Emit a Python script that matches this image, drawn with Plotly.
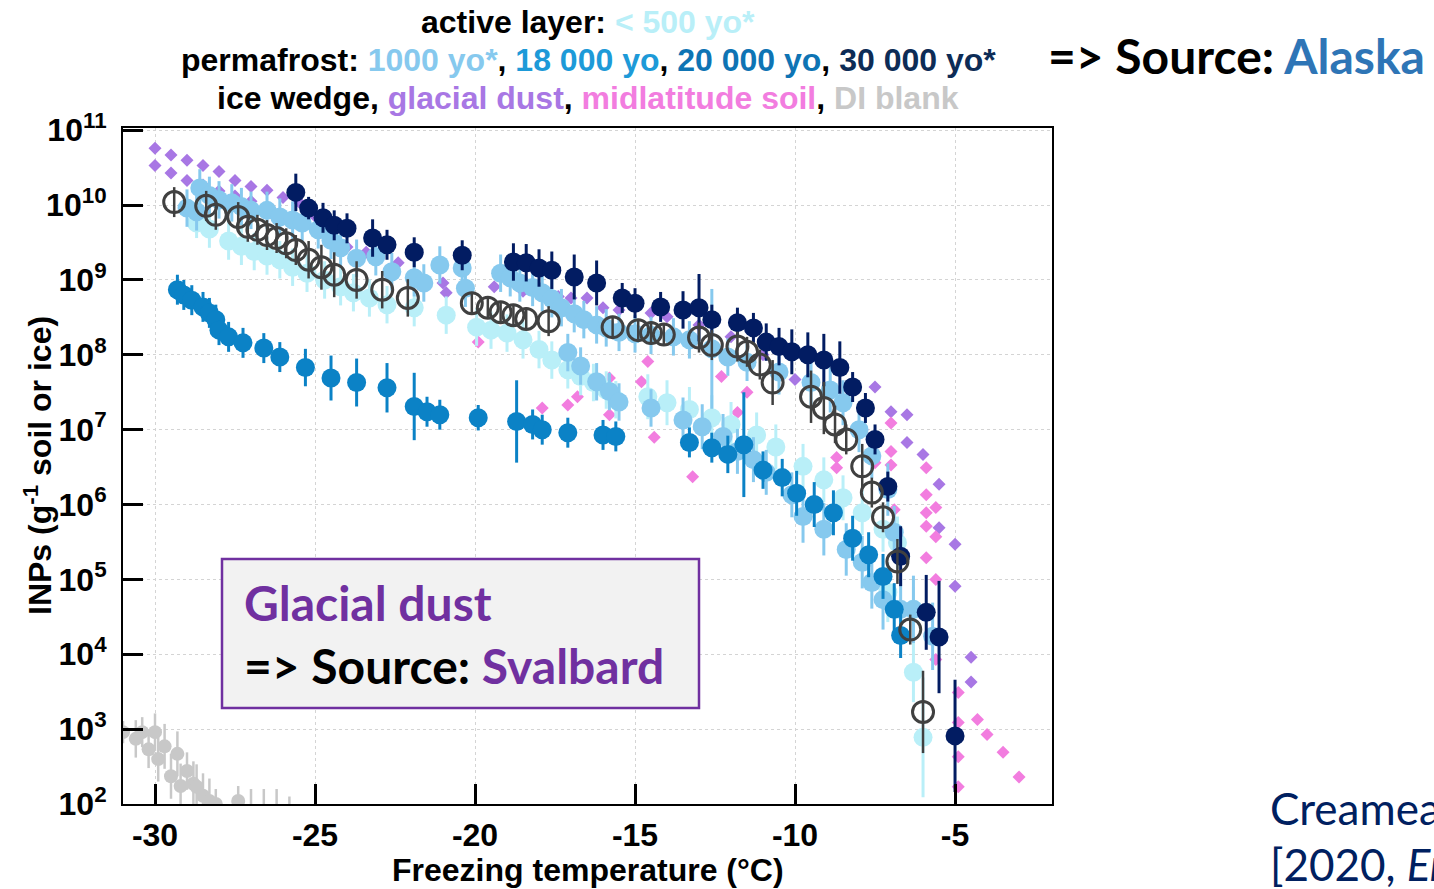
import plotly.graph_objects as go

# ---------------- data: freezing temperature (degC) and log10 INP (g^-1) ----------------
# DI blank
blank_T = [-31.0, -30.6, -30.4, -30.2, -30.0, -29.9, -29.7, -29.5, -29.3, -29.2, -29.0, -28.8,
           -28.7, -28.5, -28.3, -28.1, -27.4, -27.0, -26.6, -26.2, -25.8, -24.8, -23.5]
blank_log = [2.96, 2.87, 2.96, 2.73, 2.96, 2.60, 2.77, 2.37, 2.67, 2.24, 2.44, 2.27,
             2.23, 2.11, 2.04, 2.00, 2.04, 1.85, 1.80, 1.85, 1.80, 1.85, 1.85]
blank_err = [0.15, 0.25, 0.20, 0.25, 0.25, 0.30, 0.30, 0.30, 0.30, 0.30, 0.25, 0.30,
             0.30, 0.30, 0.30, 0.20, 0.20, 0.35, 0.40, 0.35, 0.30, 0.15, 0.15]

# glacial dust
dust_T = [-30.0, -30.0, -29.5, -29.5, -29.0, -29.0, -28.5, -28.5, -28.0, -28.0, -27.5, -27.5,
          -27.0, -27.0, -26.5, -26.0, -25.5, -25.0, -24.0, -23.4, -22.4, -21.0, -20.9, -19.4,
          -18.5, -17.4, -17.0, -16.5, -16.0, -15.5, -14.5, -14.0, -13.0, -12.0, -11.0, -10.0,
          -7.5, -7.0, -6.5, -6.5, -6.0, -5.5, -5.5, -5.0, -5.0, -4.5, -4.5]
dust_log = [10.76, 10.53, 10.67, 10.43, 10.60, 10.33, 10.53, 10.27, 10.45, 10.19, 10.33, 10.12,
            10.25, 10.05, 10.20, 10.10, 10.04, 9.85, 9.44, 9.37, 9.23, 8.96, 8.83, 8.91,
            8.85, 8.78, 8.76, 8.76, 8.63, 8.60, 8.56, 8.51, 8.40, 8.24, 8.00, 7.67,
            7.57, 7.24, 7.20, 6.83, 6.67, 6.27, 5.69, 5.47, 4.91, 3.96, 3.63]

# midlatitude soil
soil_T = [-19.9, -17.9, -17.1, -16.8, -15.8, -15.8, -14.8, -14.6, -14.4, -13.2, -12.3, -11.8,
          -11.5, -8.7, -8.7, -7.9, -7.5, -7.0, -7.0, -7.0, -6.9, -5.9, -5.9, -5.9, -5.9, -5.9,
          -5.6, -5.6, -5.6, -5.6, -4.9, -4.9, -4.9, -4.9, -4.3, -4.0, -3.5, -3.0]
soil_log = [8.17, 7.29, 7.33, 7.44, 7.69, 7.20, 7.64, 7.91, 6.90, 6.37, 7.71, 7.23,
            7.50, 6.63, 6.49, 7.00, 6.56, 7.09, 6.71, 6.53, 5.93, 6.49, 6.13, 5.89, 5.71, 5.29,
            5.96, 5.57, 5.00, 3.93, 3.49, 3.09, 2.63, 2.23, 3.13, 2.93, 2.69, 2.36]

# active layer, < 500 yo
active_T = [-28.7, -28.3, -27.7, -27.3, -26.9, -26.5, -26.1, -25.7, -25.25, -24.7, -24.2, -23.8,
            -23.3, -22.75, -21.9, -20.9, -19.95, -19.5, -19.0, -18.5, -18.0, -17.6, -17.1, -16.7,
            -16.3, -15.9, -15.6, -14.6, -14.0, -13.3, -12.6, -12.0, -11.2, -10.6, -9.75, -9.1,
            -8.5, -7.9, -7.25, -6.8, -7.1, -6.3, -6.3, -6.0]
active_log = [9.76, 9.68, 9.52, 9.45, 9.38, 9.32, 9.27, 9.17, 9.09, 9.00, 8.91, 8.83,
              8.76, 8.67, 8.63, 8.53, 8.37, 8.33, 8.29, 8.20, 8.07, 7.93, 7.80, 7.71,
              7.63, 7.53, 7.40, 7.44, 7.36, 7.27, 7.16, 7.07, 6.93, 6.77, 6.51, 6.33,
              6.09, 5.89, 5.67, 5.49, 4.83, 4.60, 3.76, 2.89]
active_err = [0.20, 0.25, 0.25, 0.25, 0.25, 0.25, 0.25, 0.25, 0.25, 0.25, 0.25, 0.25,
              0.25, 0.25, 0.25, 0.25, 0.25, 0.25, 0.25, 0.25, 0.25, 0.25, 0.25, 0.25,
              0.25, 0.25, 0.25, 0.30, 0.30, 0.30, 0.30, 0.30, 0.30, 0.30, 0.30, 0.30,
              0.30, 0.30, 0.30, 0.35, 0.40, 0.30, 0.40, 0.80]

# permafrost, 1000 yo*
p1000_T = [-29.0, -28.7, -28.6, -28.3, -28.0, -27.6, -27.3, -27.0, -26.5, -26.1, -25.7, -25.4,
           -24.9, -24.5, -24.2, -23.7, -23.1, -22.6, -21.9, -21.6, -21.1, -20.4, -20.3, -19.2,
           -18.9, -18.6, -18.2, -17.9, -17.6, -17.3, -16.9, -16.6, -16.2, -15.9, -15.5, -15.0,
           -14.5, -13.8, -13.3, -12.6, -12.1, -11.5, -10.5, -9.5, -8.9, -8.5, -8.0, -7.6,
           -7.1, -6.9,
           -17.1, -16.7, -16.2, -15.8, -15.5, -14.5, -13.5, -12.9, -12.25, -11.8, -11.3, -10.9,
           -10.1, -9.75, -9.1, -8.4, -7.9, -7.6, -7.25, -6.7, -6.3, -5.7]
p1000_log = [9.96, 9.91, 10.23, 10.13, 10.07, 10.03, 9.98, 9.93, 9.93, 9.84, 9.80, 9.76,
             9.67, 9.53, 9.43, 9.29, 9.31, 9.11, 9.03, 8.96, 9.20, 9.16, 8.89, 9.09,
             9.03, 8.96, 8.90, 8.83, 8.75, 8.63, 8.55, 8.47, 8.40, 8.36, 8.30, 8.28,
             8.26, 8.24, 8.20, 8.08, 7.97, 7.90, 7.77, 7.63, 7.53, 7.36, 7.00, 6.65,
             6.20, 5.63,
             8.03, 7.85, 7.64, 7.51, 7.37, 7.29, 7.13, 7.04, 6.91, 6.71, 6.60, 6.43,
             6.13, 5.84, 5.67, 5.40, 5.23, 4.96, 4.73, 4.60, 4.60, 4.24]
p1000_err = [0.25, 0.25, 0.25, 0.25, 0.25, 0.25, 0.25, 0.25, 0.25, 0.25, 0.25, 0.25,
             0.25, 0.25, 0.25, 0.25, 0.25, 0.25, 0.25, 0.25, 0.25, 0.25, 0.25, 0.25,
             0.25, 0.25, 0.25, 0.25, 0.25, 0.25, 0.25, 0.25, 0.25, 0.25, 0.25, 0.25,
             0.25, 0.25, 0.25, 0.80, 0.25, 0.25, 0.30, 0.30, 0.30, 0.30, 0.30, 0.30,
             0.35, 0.35,
             0.25, 0.25, 0.25, 0.25, 0.25, 0.25, 0.30, 0.30, 0.30, 0.30, 0.30, 0.30,
             0.30, 0.35, 0.35, 0.35, 0.35, 0.35, 0.40, 0.40, 0.45, 0.45]

# permafrost, 18 000 / 20 000 yo
p20k_T = [-29.3, -29.1, -28.85, -28.5, -28.3, -28.1, -28.0, -27.7, -27.25, -26.6, -26.1, -25.3,
          -24.5, -23.7, -22.75, -21.9, -21.5, -21.1, -19.9, -18.7, -18.2, -17.9, -17.1, -16.0,
          -15.6, -13.3, -12.6, -12.1, -11.6, -11.0, -10.4, -9.95, -9.4, -8.8, -8.2, -7.7,
          -7.25, -6.9, -6.7]
p20k_log = [8.87, 8.80, 8.73, 8.64, 8.56, 8.47, 8.33, 8.24, 8.16, 8.09, 7.97, 7.83,
            7.69, 7.63, 7.56, 7.31, 7.24, 7.20, 7.16, 7.11, 7.07, 7.00, 6.96, 6.93,
            6.91, 6.83, 6.76, 6.67, 6.80, 6.46, 6.36, 6.15, 6.00, 5.89, 5.55, 5.33,
            5.04, 4.60, 4.25]
p20k_err = [0.20, 0.20, 0.20, 0.20, 0.20, 0.20, 0.20, 0.20, 0.20, 0.20, 0.20, 0.25,
            0.30, 0.32, 0.33, 0.45, 0.20, 0.20, 0.17, 0.55, 0.20, 0.20, 0.20, 0.20,
            0.20, 0.20, 0.20, 0.25, 0.70, 0.25, 0.25, 0.30, 0.30, 0.30, 0.30, 0.30,
            0.30, 0.35, 0.30]

# permafrost, 30 000 yo*
p30k_T = [-25.6, -25.2, -24.75, -24.4, -24.0, -23.2, -22.75, -21.9, -20.4, -18.8, -18.4, -18.0,
          -17.6, -16.9, -16.2, -15.4, -15.0, -14.2, -13.5, -13.0, -12.6, -11.8, -11.3, -10.9,
          -10.5, -10.1, -9.6, -9.1, -8.6, -8.2, -7.8, -7.5, -7.1, -6.7, -5.9, -5.5, -5.0]
p30k_log = [10.17, 9.96, 9.83, 9.73, 9.69, 9.56, 9.47, 9.37, 9.33, 9.24, 9.23, 9.16,
            9.13, 9.04, 8.96, 8.76, 8.69, 8.64, 8.60, 8.63, 8.47, 8.43, 8.36, 8.17,
            8.11, 8.04, 8.00, 7.93, 7.83, 7.57, 7.29, 6.87, 6.24, 5.31, 4.56, 4.23, 2.91]
p30k_err = [0.25, 0.15, 0.20, 0.20, 0.20, 0.25, 0.20, 0.20, 0.20, 0.25, 0.25, 0.25,
            0.25, 0.30, 0.30, 0.20, 0.20, 0.20, 0.25, 0.45, 0.20, 0.20, 0.20, 0.25,
            0.25, 0.30, 0.30, 0.35, 0.35, 0.20, 0.20, 0.20, 0.20, 0.40, 0.50, 0.75, 0.75]

# ice wedge
wedge_T = [-29.4, -28.4, -28.1, -27.4, -27.1, -26.8, -26.5, -26.2, -25.9, -25.6, -25.2, -24.8,
           -24.4, -23.7, -22.9, -22.1, -20.1, -19.6, -19.2, -18.8, -18.4, -17.7, -15.7, -14.9,
           -14.5, -14.1, -13.0, -12.6, -11.8, -11.5, -11.1, -10.7, -9.5, -9.1, -8.75, -8.4,
           -7.9, -7.6, -7.25, -6.8, -6.4, -6.0]
wedge_log = [10.04, 9.99, 9.87, 9.84, 9.71, 9.67, 9.60, 9.56, 9.49, 9.40, 9.27, 9.17,
             9.07, 9.00, 8.87, 8.76, 8.69, 8.63, 8.57, 8.53, 8.48, 8.45, 8.37, 8.33,
             8.29, 8.27, 8.23, 8.13, 8.11, 8.04, 7.87, 7.63, 7.44, 7.29, 7.07, 6.87,
             6.51, 6.16, 5.83, 5.24, 4.33, 3.23]
wedge_err = [0.20, 0.20, 0.20, 0.20, 0.20, 0.20, 0.20, 0.20, 0.20, 0.20, 0.25, 0.30,
             0.30, 0.25, 0.25, 0.25, 0.15, 0.15, 0.15, 0.15, 0.15, 0.20, 0.15, 0.15,
             0.15, 0.15, 0.20, 0.20, 0.20, 0.20, 0.20, 0.30, 0.35, 0.35, 0.25, 0.20,
             0.30, 0.20, 0.20, 0.30, 0.20, 0.55]

x_ticks = [-30, -25, -20, -15, -10, -5]
y_exponents = [2, 3, 4, 5, 6, 7, 8, 9, 10, 11]

# ---------------- colours ----------------
C_BLANK = "#c8c8c8"
C_DUST = "#a877e4"
C_SOIL = "#f27ddf"
C_ACTIVE = "#b9eff8"
C_1000 = "#86c9ee"
C_18K = "#1d9ad8"
C_20K = "#0b82c6"
C_30K = "#021c62"
C_30K_TXT = "#0d2c56"
C_WEDGE = "#404040"

# plot-area geometry in pixels (figure 1434 x 889)
W, H = 1434, 889
L, R, T, B = 123, 1052, 128, 804


def px(x):
    return (x - L) / (R - L)


def py(y):
    return (B - y) / (B - T)


def errbars(logs, errs, color, thick=3):
    vals = [10 ** v for v in logs]
    up = [10 ** (v + e) - 10 ** v for v, e in zip(logs, errs)]
    dn = [10 ** v - 10 ** (v - e) for v, e in zip(logs, errs)]
    return vals, dict(type="data", symmetric=False, array=up, arrayminus=dn,
                      color=color, thickness=thick, width=0)


fig = go.Figure()

# DI blank
yv, ey = errbars(blank_log, blank_err, C_BLANK, 2.5)
fig.add_trace(go.Scatter(x=blank_T, y=yv, mode="markers", error_y=ey,
                         marker=dict(symbol="circle", size=14, color=C_BLANK)))

# glacial dust and midlatitude soil (diamonds, no error bars)
fig.add_trace(go.Scatter(x=dust_T, y=[10 ** v for v in dust_log], mode="markers",
                         marker=dict(symbol="diamond", size=10, color=C_DUST)))
fig.add_trace(go.Scatter(x=soil_T, y=[10 ** v for v in soil_log], mode="markers",
                         marker=dict(symbol="diamond", size=10, color=C_SOIL)))

# active layer
yv, ey = errbars(active_log, active_err, C_ACTIVE)
fig.add_trace(go.Scatter(x=active_T, y=yv, mode="markers", error_y=ey,
                         marker=dict(symbol="circle", size=19, color=C_ACTIVE)))

# 1000 yo
yv, ey = errbars(p1000_log, p1000_err, C_1000)
fig.add_trace(go.Scatter(x=p1000_T, y=yv, mode="markers", error_y=ey,
                         marker=dict(symbol="circle", size=19, color=C_1000)))

# 18 000 / 20 000 yo
yv, ey = errbars(p20k_log, p20k_err, C_20K)
fig.add_trace(go.Scatter(x=p20k_T, y=yv, mode="markers", error_y=ey,
                         marker=dict(symbol="circle", size=19, color=C_20K)))

# 30 000 yo
yv, ey = errbars(p30k_log, p30k_err, C_30K)
fig.add_trace(go.Scatter(x=p30k_T, y=yv, mode="markers", error_y=ey,
                         marker=dict(symbol="circle", size=19, color=C_30K)))

# ice wedge (open circles)
yv, ey = errbars(wedge_log, wedge_err, C_WEDGE, 2.5)
fig.add_trace(go.Scatter(x=wedge_T, y=yv, mode="markers", error_y=ey,
                         marker=dict(symbol="circle-open", size=21, color=C_WEDGE,
                                     line=dict(color=C_WEDGE, width=3))))

AX_FONT = dict(family="Liberation Sans, Arial, sans-serif", size=32, color="black", weight="bold")

fig.update_xaxes(range=[-31.0, -1.97], tickvals=x_ticks, ticktext=[str(v) for v in x_ticks],
                 ticks="inside", ticklen=20, tickwidth=2.5, tickcolor="black",
                 showline=True, linewidth=2, linecolor="black", mirror=True,
                 showgrid=True, gridcolor="#d4d4d4", gridwidth=1, griddash="dot",
                 zeroline=False, tickfont=AX_FONT, ticklabelstandoff=2)
fig.update_yaxes(type="log", range=[2, 11.03], tickvals=[10 ** e for e in y_exponents],
                 ticktext=[f"10<sup>{e}</sup>" for e in y_exponents],
                 ticks="inside", ticklen=20, tickwidth=2.5, tickcolor="black",
                 showline=True, linewidth=2, linecolor="black", mirror=True,
                 showgrid=True, gridcolor="#d4d4d4", gridwidth=1, griddash="dot",
                 zeroline=False, tickfont=AX_FONT, ticklabelstandoff=8)

TXT = "Liberation Sans, Arial, sans-serif"
SLIDE = "Lato, Carlito, Calibri, sans-serif"

annotations = [
    # series key above the plot
    dict(x=px(588), y=py(22), xref="paper", yref="paper", showarrow=False,
         xanchor="center", yanchor="middle", font=dict(family=TXT, size=32, color="black"),
         text=f"<b>active layer: <span style='color:{C_ACTIVE}'>&lt; 500 yo*</span></b>"),
    dict(x=px(588), y=py(60), xref="paper", yref="paper", showarrow=False,
         xanchor="center", yanchor="middle", font=dict(family=TXT, size=32, color="black"),
         text=(f"<b>permafrost: <span style='color:{C_1000}'>1000 yo*</span>, "
               f"<span style='color:{C_18K}'>18 000 yo</span>, "
               f"<span style='color:#0e74b4'>20 000 yo</span>, "
               f"<span style='color:{C_30K_TXT}'>30 000 yo*</span></b>")),
    dict(x=px(588), y=py(98), xref="paper", yref="paper", showarrow=False,
         xanchor="center", yanchor="middle", font=dict(family=TXT, size=32, color="black"),
         text=(f"<b>ice wedge, <span style='color:{C_DUST}'>glacial dust</span>, "
               f"<span style='color:{C_SOIL}'>midlatitude soil</span>, "
               f"<span style='color:{C_BLANK}'>DI blank</span></b>")),
    # axis titles
    dict(x=px(588), y=py(870), xref="paper", yref="paper", showarrow=False,
         xanchor="center", yanchor="middle", font=dict(family=TXT, size=32, color="black"),
         text="<b>Freezing temperature (°C)</b>"),
    dict(x=px(38), y=py(466), xref="paper", yref="paper", showarrow=False, textangle=-90,
         xanchor="center", yanchor="middle", font=dict(family=TXT, size=32, color="black"),
         text="<b>INPs (g<sup>-1</sup> soil or ice)</b>"),
    # source notes
    dict(x=px(1046), y=py(55), xref="paper", yref="paper", showarrow=False,
         xanchor="left", yanchor="middle", font=dict(family=SLIDE, size=48, color="black"),
         text="<b>=&gt; Source: <span style='color:#2e75b6'>Alaska</span></b>"),
    dict(x=px(242), y=py(602), xref="paper", yref="paper", showarrow=False,
         xanchor="left", yanchor="middle", font=dict(family=SLIDE, size=48, color="#7030a0"),
         text="<b>Glacial dust</b>"),
    dict(x=px(242), y=py(665), xref="paper", yref="paper", showarrow=False,
         xanchor="left", yanchor="middle", font=dict(family=SLIDE, size=48, color="black"),
         text="<b>=&gt; Source: <span style='color:#7030a0'>Svalbard</span></b>"),
    dict(x=px(1268), y=py(808), xref="paper", yref="paper", showarrow=False,
         xanchor="left", yanchor="middle", font=dict(family=SLIDE, size=44, color="#002060"),
         text="Creamean et al."),
    dict(x=px(1268), y=py(864), xref="paper", yref="paper", showarrow=False,
         xanchor="left", yanchor="middle", font=dict(family=SLIDE, size=44, color="#002060"),
         text="[2020, <i>Environ. Res. Lett.</i>]"),
]

shapes = [
    dict(type="rect", xref="paper", yref="paper", x0=px(222), x1=px(699), y0=py(708), y1=py(559),
         fillcolor="#f2f2f2", line=dict(color="#7030a0", width=2.5), layer="above"),
]

fig.update_layout(
    width=W, height=H,
    margin=dict(l=L, r=W - R, t=T, b=H - B, pad=0),
    paper_bgcolor="white", plot_bgcolor="white",
    showlegend=False,
    annotations=annotations, shapes=shapes,
)

fig.write_html("out.html")
